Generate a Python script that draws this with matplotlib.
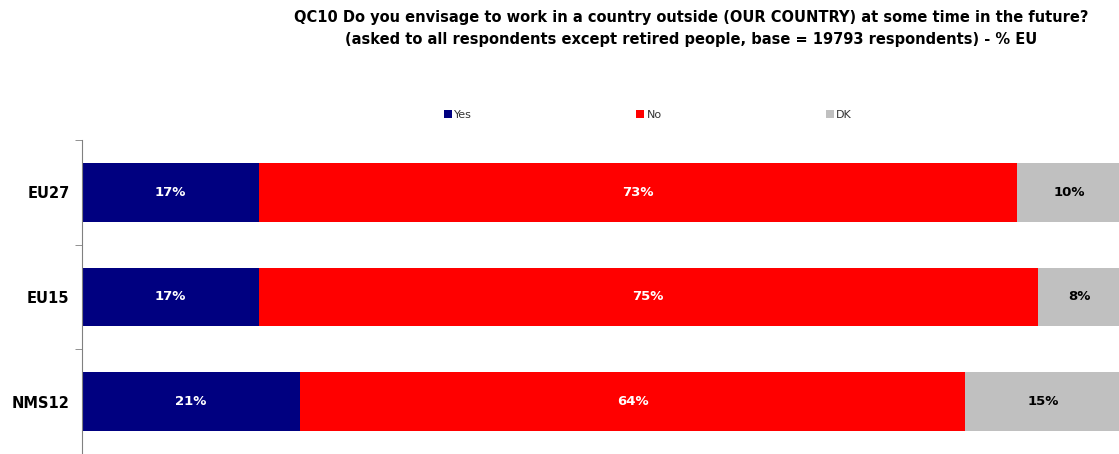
import matplotlib.pyplot as plt
from matplotlib.patches import Patch
from matplotlib.ticker import FixedLocator, NullLocator

categories = ['EU27', 'EU15', 'NMS12']
yes_vals = [17, 17, 21]
no_vals = [73, 75, 64]
dk_vals = [10, 8, 15]

series_names = ['Yes', 'No', 'DK']
colors = ['#000080', '#FF0000', '#C0C0C0']
label_colors = ['white', 'white', 'black']

title = ('QC10 Do you envisage to work in a country outside (OUR COUNTRY) at some time in the future?\n'
         '(asked to all respondents except retired people, base = 19793 respondents) - % EU')

fig = plt.figure(figsize=(11.19, 4.54), dpi=100)
ax = fig.add_axes([0.0733, 0.0, 0.9285, 0.692])

y = list(range(len(categories)))
left = [0] * len(categories)
for vals, name, col, lcol in zip([yes_vals, no_vals, dk_vals], series_names, colors, label_colors):
    bars = ax.barh(y, vals, left=left, height=0.56, color=col, label=name)
    for b, v, l in zip(bars, vals, left):
        ax.text(l + v / 2, b.get_y() + b.get_height() / 2, f'{v}%',
                ha='center', va='center', color=lcol, fontsize=9.5, fontweight='bold')
    left = [a + b for a, b in zip(left, vals)]

ax.set_xlim(0, 100)
ax.set_ylim(2.5, -0.5)
ax.set_yticks(y)
ax.set_yticklabels(categories, fontsize=10.5, fontweight='bold')
ax.tick_params(axis='y', which='major', length=0, pad=9)
ax.yaxis.set_minor_locator(FixedLocator([-0.5, 0.5, 1.5, 2.5]))
ax.tick_params(axis='y', which='minor', length=5, color='#808080')
ax.xaxis.set_major_locator(NullLocator())
for s in ['top', 'right', 'bottom']:
    ax.spines[s].set_visible(False)
ax.spines['left'].set_color('#808080')

handles = [Patch(facecolor=c, edgecolor='none', label=n) for c, n in zip(colors, series_names)]
fig.legend(handles=handles, ncol=3, loc='center left', bbox_to_anchor=(0.388, 0.747),
           frameon=False, fontsize=8, handlelength=0.7, handleheight=0.7,
           handletextpad=0.2, columnspacing=14.8, labelcolor='#333333')

fig.text(0.618, 0.937, title, ha='center', va='center', fontsize=10.5, fontweight='bold',
         linespacing=1.6)

fig.savefig('out.png', dpi=100)
